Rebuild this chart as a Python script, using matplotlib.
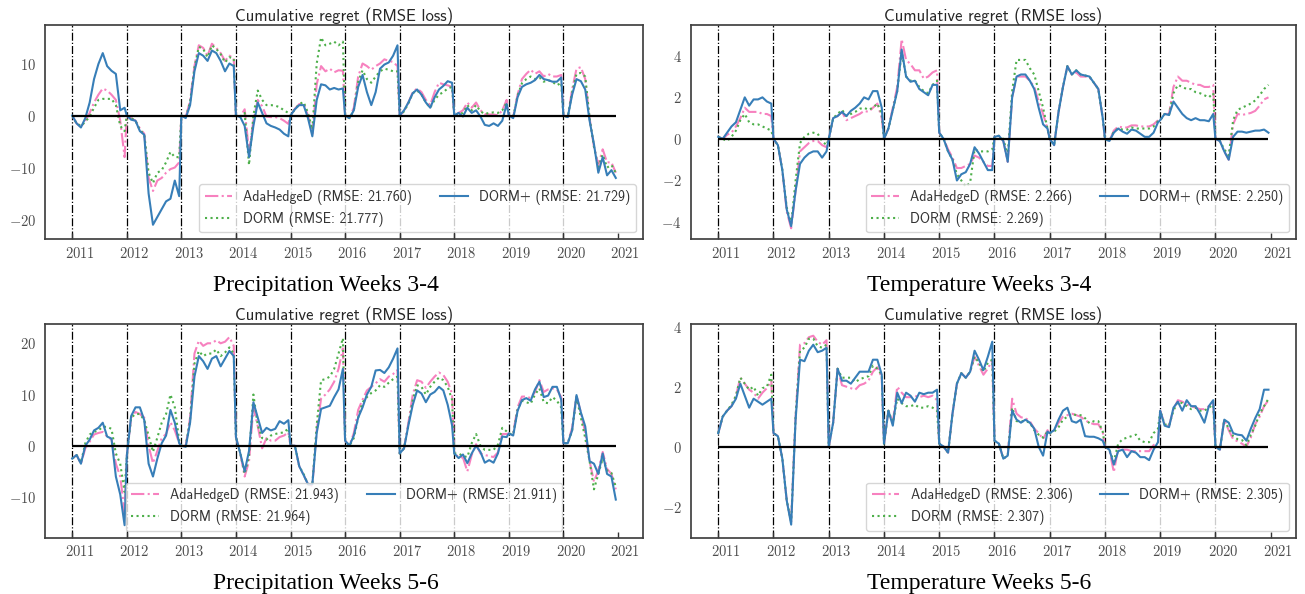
import numpy as np
import matplotlib
matplotlib.use("Agg")
import matplotlib.pyplot as plt
from matplotlib import transforms

plt.rcParams["mathtext.fontset"] = "cm"

year_labels = ["2011", "2012", "2013", "2014", "2015", "2016", "2017", "2018", "2019", "2020", "2021"]
# samples inside each forecast year (fraction of the year)
frac = np.arange(13) * 0.08
t = np.concatenate([k + frac for k in range(10)])

# ---------------- Precipitation weeks 3-4 ----------------
p34_ada = [
    [0, -1.5, -2.2, -1, 0.5, 2.5, 4, 5.2, 4.8, 4, 3, -1, -8],
    [0, -0.5, -1, -2.5, -3.5, -12, -14.5, -12.5, -12, -11, -10.3, -10, -9],
    [0, -0.3, 2.8, 9.5, 13.5, 13, 11.5, 13.8, 13, 12, 10.5, 11.5, 11],
    [0, -0.2, 1.2, -7, -1, 3, 1.8, -0.2, -0.3, -0.3, -0.5, -1, -1.6],
    [0, 1.3, 2.2, 2.3, 0, -3.5, 6, 9.5, 8.5, 9, 8.3, 8.7, 8.6],
    [0, -0.5, 1.5, 7.5, 10, 9.5, 8.8, 9.5, 10, 10.8, 10.5, 10.3, 9.5],
    [0, 0.8, 2.5, 4.5, 5.2, 4.5, 3, 2, 4.5, 6.3, 6, 5.8, 5.5],
    [0, 0.5, 1, 2.5, 1.5, 2.5, 1, 0.3, 0.2, 0.2, 0, 1, 3],
    [0, -0.3, 4, 7, 8, 8.8, 8, 8.5, 7.5, 8, 7.5, 7.5, 7.8],
    [0, -0.3, 5, 9, 9.3, 7, -0.5, -6, -9.5, -6.5, -9, -9, -11],
]
p34_dorm = [
    [0, -1.5, -2, -1.2, -0.2, 1.5, 3, 3.2, 3.2, 3.2, 2, -2, -3],
    [0, -0.5, -1, -2.8, -3.6, -11, -13, -11, -10.5, -9, -7, -8, -8],
    [0, -0.4, 2.6, 9.2, 13.2, 12.8, 11.2, 13.5, 12.8, 11.8, 10.2, 11.2, 11],
    [0, -0.2, 0.5, -9.5, 0, 4.8, 3, 2, 2, 1.9, 1.6, 1, 0.5],
    [0, 1.2, 2.2, 2.6, 0.5, -2.7, 10, 15, 13.5, 13.8, 14.2, 13.5, 14.2],
    [0, -0.5, 1, 6.5, 8.7, 7, 6.3, 7.5, 8.5, 9, 8.8, 8.5, 8.5],
    [0, 0.8, 2.3, 4.3, 4.8, 4, 2.5, 1.5, 3, 4, 4.5, 5.2, 5.5],
    [0, 0.3, 0.5, 2, 1, 2, 0.8, 0.3, 0.5, 0.6, 0.5, 1, 2.5],
    [0, -0.3, 3.8, 6.2, 7, 7.5, 7, 7.3, 6.5, 6.8, 6.5, 5.8, 6.3],
    [0, -0.3, 4.5, 8, 8.2, 7.5, -0.5, -6, -10, -7.5, -10, -9.5, -11],
]
p34_dormp = [
    [0, -1.5, -2.3, -0.5, 2.5, 7, 9.9, 12, 9.5, 8.6, 8, 1, 1.5],
    [0, -0.8, -1, -3, -3.7, -15, -21, -19.5, -18, -16.5, -16, -12.5, -15.5],
    [0, -0.5, 2, 8.5, 12, 11.5, 10.5, 12.5, 12, 10.5, 8.5, 10, 9.5],
    [0, -0.3, -2, -8, -2, 2.5, 0.5, -1.5, -2, -2.3, -2.7, -3.5, -4],
    [0, 1.2, 2, 2, -0.5, -4, 3, 6, 5.8, 5, 5.3, 5, 5.2],
    [0, -0.5, 1, 5.5, 7.8, 4.5, 2, 4.5, 9, 9.8, 10.2, 11.5, 13.5],
    [0, 1, 2.5, 4.3, 5, 4, 2.5, 1.5, 3.5, 5, 5.7, 6.6, 6.3],
    [0, 0.5, -0.2, 1.5, 0.5, 1, -0.2, -1.8, -2, -1.5, -2, -1, 2.2],
    [0, -0.5, 3.5, 5.5, 6, 6.3, 6.8, 7.8, 7, 6.8, 6.5, 6.5, 7.3],
    [0, -0.3, 4, 7, 6.6, 5, -1, -5.5, -11, -8, -11.5, -10.5, -12],
]
p34_rmse = ["21.760", "21.777", "21.729"]

# ---------------- Temperature weeks 3-4 ----------------
t34_ada = [
    [0.1, 0, 0.2, 0.3, 0.6, 1.0, 1.5, 1.3, 1.3, 1.3, 1.2, 1.2, 1.1],
    [0, -0.3, -1.5, -3.5, -4.3, -2.5, -0.6, -0.4, -0.2, -0.1, -0.1, -0.3, -0.4],
    [0, 1.0, 1.1, 1.3, 0.9, 1.0, 1.1, 1.2, 1.35, 1.3, 1.5, 1.7, 1.0],
    [0, 0.5, 1.5, 2.5, 4.8, 3.8, 3.6, 3.3, 3.3, 2.9, 3.0, 3.2, 3.3],
    [0.3, 0, -0.5, -0.9, -1.4, -1.4, -1.3, -1.2, -0.8, -0.9, -1.1, -1.3, -1.3],
    [0.1, 0.15, -0.1, -1.1, 2.0, 3.0, 3.0, 3.0, 2.8, 2.5, 1.8, 1.2, 0.5],
    [0, -0.3, 1.3, 2.5, 3.5, 3.1, 3.2, 3.0, 3.0, 2.95, 2.7, 2.4, 1.0],
    [0, -0.1, 0.4, 0.6, 0.55, 0.55, 0.65, 0.65, 0.6, 0.6, 0.6, 0.7, 0.9],
    [0.9, 1.2, 1.2, 2.5, 3.0, 2.8, 2.8, 2.7, 2.6, 2.6, 2.5, 2.5, 2.6],
    [0, -0.1, -0.6, -1.0, 0.7, 1.2, 1.15, 1.2, 1.25, 1.35, 1.6, 1.9, 2.0],
]
t34_dorm = [
    [0.1, 0, -0.1, 0.1, 0.4, 0.9, 1.2, 0.8, 0.7, 0.7, 0.6, 0.5, 0.4],
    [0, -0.3, -1.5, -3.3, -4.1, -2.0, -0.2, 0.1, 0.25, 0.3, 0.25, -0.1, -0.3],
    [0, 1.0, 1.2, 1.4, 1.1, 1.2, 1.3, 1.45, 1.5, 1.4, 1.5, 1.7, 1.2],
    [0, 0.5, 1.4, 2.3, 4.2, 3.0, 2.8, 2.8, 2.5, 2.3, 2.2, 2.6, 2.8],
    [0.3, 0, -0.6, -1.0, -1.7, -2.0, -2.3, -2.1, -0.5, -0.6, -0.6, -0.6, -0.5],
    [0.1, 0.15, 0, -0.8, 2.3, 3.8, 3.8, 3.8, 3.4, 3.1, 2.3, 1.5, 0.5],
    [0, -0.3, 1.3, 2.5, 3.5, 3.1, 3.3, 3.1, 3.05, 3.0, 2.7, 2.4, 1.0],
    [0, -0.1, 0.35, 0.5, 0.45, 0.45, 0.55, 0.5, 0.5, 0.5, 0.5, 0.6, 0.85],
    [0.9, 1.2, 1.15, 2.2, 2.6, 2.5, 2.4, 2.4, 2.25, 2.2, 2.1, 2.0, 2.2],
    [0, -0.1, -0.5, -0.8, 0.9, 1.4, 1.5, 1.6, 1.7, 1.85, 2.1, 2.4, 2.6],
]
t34_dormp = [
    [0.1, 0, 0.3, 0.6, 0.8, 1.4, 2.0, 1.6, 1.9, 1.9, 2.0, 1.8, 1.7],
    [0, -0.3, -1.5, -3.4, -4.2, -2.5, -1.2, -0.9, -0.7, -0.6, -0.6, -0.9, -0.6],
    [0, 1.0, 1.1, 1.3, 1.1, 1.35, 1.5, 1.7, 2.0, 1.9, 2.3, 2.3, 1.5],
    [0, 0.5, 1.4, 2.3, 4.3, 3.0, 2.75, 2.8, 2.4, 2.25, 2.1, 2.6, 2.6],
    [0.3, 0, -0.6, -1.0, -2.0, -1.7, -1.6, -1.2, -0.4, -0.7, -1.1, -1.5, -1.5],
    [0.1, 0.15, -0.1, -1.1, 2.0, 3.0, 3.1, 3.1, 2.8, 2.4, 1.5, 0.7, 0.5],
    [0, -0.3, 1.3, 2.5, 3.5, 3.1, 3.3, 3.1, 3.05, 3.0, 2.7, 2.4, 1.0],
    [0, -0.1, 0.3, 0.5, 0.35, 0.25, 0.45, 0.4, 0.25, 0.1, 0.1, 0.3, 0.8],
    [0.9, 1.2, 1.15, 1.8, 1.5, 1.2, 1.0, 0.9, 1.0, 0.9, 0.9, 0.85, 1.2],
    [0, -0.1, -0.6, -1.0, 0.1, 0.35, 0.35, 0.3, 0.35, 0.4, 0.4, 0.45, 0.3],
]
t34_rmse = ["2.266", "2.269", "2.250"]

# ---------------- Precipitation weeks 5-6 ----------------
p56_ada = [
    [-2.5, -1.8, -3.5, -0.5, 0.8, 2.2, 2.5, 2.7, 1.8, 1.2, -3.5, -6, -13],
    [-2, 5.5, 6.6, 6.2, 5.5, 0, -3.4, -1, 1.5, 2.3, 4.6, 3, 0.5],
    [0, 0, 5.5, 18, 20.5, 19.5, 20, 20, 20.6, 20, 20.3, 21.2, 19.5],
    [1.7, -1.5, -6, -3, 7.5, 3.8, -0.5, 1.5, 1, 1, 1.7, 2, 2.6],
    [0, 0, -4, -5.7, -7.5, -7.8, 3, 9.2, 10, 11, 12.5, 15, 19],
    [1, 0, 2.5, 7, 9, 10.8, 11.5, 12.2, 13, 12.5, 13.5, 14, 14.8],
    [-1.5, -0.5, 4.5, 10, 12.8, 12.5, 11.3, 12.5, 13.5, 14.3, 13.8, 12.5, 10.2],
    [-1.5, -2.2, -2.3, -5, -1.8, 0.3, -1.5, -1.8, -2, -2.2, -1.3, 2.3, 2.3],
    [2.4, 2.5, 7.5, 9.6, 9.6, 9.3, 10.5, 12.8, 10.5, 11, 11.2, 11, 9.5],
    [0.5, 0.5, 3.5, 9.8, 6.5, 2.5, -3, -7, -4.8, -1.2, -4.5, -5.5, -8.5],
]
p56_dorm = [
    [-2.5, -1.8, -3.3, 0.5, 2.2, 2.7, 3.0, 3.7, 3.7, 3.3, -1.5, -3.5, -9],
    [-2, 5.5, 6.2, 6.2, 5, 2, -1.2, 1.6, 4.5, 6.2, 10, 7.5, 1],
    [0, -0.1, 5, 16, 18.5, 17.5, 18, 18, 18.8, 17.5, 18.2, 19.2, 18],
    [1.7, -1.5, -5.5, -2, 10, 4, 1.5, 1.2, 2, 2.3, 2.5, 2.6, 3.4],
    [0, 0, -4, -5.5, -7.5, -7.5, 4, 12.8, 13, 13.5, 15, 18, 21],
    [1, 0, 1.5, 5.5, 8.5, 9.5, 10.3, 10.8, 11.8, 11.5, 12.3, 13, 13.5],
    [-1.5, -0.5, 4, 9, 11.8, 11.5, 10, 11.5, 12.5, 13.3, 12.8, 11.5, 9],
    [-1.5, -1.5, -2, -2.2, 0.5, 2.3, 0, -0.8, -0.8, -0.8, 0.2, 3.5, 2.8],
    [2.4, 2.2, 7, 8.8, 8.5, 8.2, 10, 11.2, 8.5, 8.3, 9.5, 8.8, 7.5],
    [0.5, 0.5, 3, 9.5, 5.5, 1.5, -3, -8.5, -5.5, -2.5, -4.8, -5.3, -8],
]
p56_dormp = [
    [-2.5, -1.8, -3.5, 0, 1.2, 3.0, 3.5, 4.5, 1.8, 1.4, -6, -9.5, -15.5],
    [-2, 5.8, 7.5, 7.5, 5, -3.5, -6, -2.5, 0.5, 2, 7, 4.5, 0.5],
    [0, -0.2, 4.5, 13.5, 17.5, 16.5, 15, 17, 17.5, 15.5, 17, 18.5, 17.5],
    [1.7, -1.5, -5, -1, 8.5, 5.5, 2.5, 3.5, 3, 3.3, 4.8, 4.3, 5],
    [0, 0, -4, -5.7, -7.5, -7.5, 2.5, 7.2, 7.5, 7.8, 9.5, 11, 15],
    [1, 0, 2, 5.5, 7.5, 10, 11.5, 14.7, 14.8, 14.2, 15.3, 17, 19],
    [-1.5, -0.5, 4, 8, 10.8, 10.2, 8.5, 10, 10.5, 11.5, 10.8, 8, 4],
    [-1.5, -2.4, -1.7, -3.4, -1.5, 0, -1.2, -3.3, -2.8, -3.3, -1.5, 1.8, 1.7],
    [2.4, 2, 6.8, 8.9, 9.3, 8.8, 11, 12.5, 9.5, 9.8, 11.5, 11.5, 9],
    [0.5, 0.5, 3, 9.9, 6.5, 3.8, -3, -3.5, -5.5, -1.5, -5.5, -6, -10.5],
]
p56_rmse = ["21.943", "21.964", "21.911"]

# ---------------- Temperature weeks 5-6 ----------------
t56_ada = [
    [0.45, 1.0, 1.2, 1.35, 1.7, 2.3, 2.1, 1.9, 1.8, 1.6, 1.8, 1.95, 2.2],
    [0.45, 0.35, -0.4, -1.8, -2.5, 1.0, 3.4, 3.45, 3.65, 3.7, 3.5, 3.4, 3.55],
    [0, 0.8, 2.6, 2.05, 2.0, 1.95, 1.9, 2.05, 2.1, 2.2, 2.5, 2.65, 2.3],
    [0.1, 1.2, 0.8, 2.0, 1.8, 1.65, 1.65, 1.7, 1.65, 1.7, 1.65, 1.7, 1.55],
    [0.1, 0, -0.2, 1.1, 2.1, 2.45, 2.3, 2.5, 3.0, 2.7, 2.4, 2.6, 2.9],
    [0.2, 0.1, -0.4, -0.3, 1.6, 1.1, 0.98, 0.95, 0.85, 0.6, 0.45, 0.25, 0.55],
    [0.45, 0.55, 0.8, 1.0, 1.05, 1.1, 1.05, 1.0, 0.88, 0.8, 0.75, 0.75, 0.5],
    [0, -0.1, -0.85, -0.05, -0.1, -0.1, -0.15, -0.15, -0.15, -0.15, -0.15, 0.05, 0.15],
    [1.2, 0.75, 0.7, 1.25, 1.55, 1.5, 1.4, 1.35, 1.3, 1.25, 1.25, 1.35, 1.45],
    [0, -0.1, 0.9, 0.55, 0.25, 0.18, 0.1, 0.0, 0.3, 0.75, 1.0, 1.35, 1.55],
]
t56_dorm = [
    [0.45, 1.0, 1.2, 1.4, 1.7, 2.3, 2.1, 1.9, 2.0, 1.7, 1.95, 2.0, 2.4],
    [0.45, 0.35, -0.4, -1.8, -2.5, 1.0, 3.2, 3.3, 3.6, 3.6, 3.35, 3.3, 3.4],
    [0, 0.8, 2.6, 2.3, 2.3, 2.3, 2.15, 2.25, 2.3, 2.35, 2.7, 2.6, 2.4],
    [0.1, 1.2, 0.8, 1.6, 1.45, 1.35, 1.35, 1.4, 1.3, 1.3, 1.35, 1.3, 1.2],
    [0.1, 0, -0.2, 1.1, 2.1, 2.45, 2.3, 2.5, 3.0, 2.8, 2.5, 2.8, 2.9],
    [0.2, 0.1, -0.4, -0.3, 1.3, 0.85, 0.85, 0.85, 0.8, 0.55, 0.4, 0.3, 0.5],
    [0.45, 0.5, 0.65, 0.9, 1.0, 1.1, 1.05, 1.05, 0.95, 0.78, 0.85, 0.85, 0.5],
    [0, -0.1, -0.5, 0.1, 0.25, 0.3, 0.35, 0.4, 0.2, 0.15, 0.15, 0.45, 0.6],
    [1.2, 0.75, 0.7, 1.2, 1.5, 1.45, 1.35, 1.25, 1.3, 1.2, 1.2, 1.3, 1.4],
    [0, -0.1, 0.9, 0.6, 0.35, 0.25, 0.22, 0.05, 0.4, 0.7, 1.1, 1.35, 1.6],
]
t56_dormp = [
    [0.45, 1.0, 1.2, 1.35, 1.6, 2.1, 1.7, 1.3, 1.6, 1.5, 1.4, 1.5, 1.6],
    [0.45, 0.35, -0.4, -1.8, -2.6, 0.9, 2.9, 2.85, 3.2, 3.4, 3.15, 3.2, 3.3],
    [0, 0.8, 2.6, 2.2, 2.2, 2.1, 2.3, 2.5, 2.5, 2.5, 2.9, 2.9, 2.4],
    [0.1, 1.2, 0.7, 1.8, 1.45, 1.8, 1.7, 1.5, 1.8, 1.75, 1.8, 1.8, 1.9],
    [0.1, 0, -0.2, 1.1, 2.1, 2.45, 2.3, 2.5, 3.2, 2.9, 2.55, 3.0, 3.5],
    [0.2, 0.1, -0.4, -0.3, 1.2, 0.9, 0.8, 0.9, 0.8, 0.6, 0.0, -0.3, 0.5],
    [0.45, 0.55, 0.9, 1.2, 1.3, 0.85, 0.8, 0.9, 0.35, 0.33, 0.33, 0.28, 0.2],
    [0, -0.1, -0.6, -0.15, -0.1, -0.35, -0.15, -0.2, -0.35, -0.35, -0.45, -0.1, 0.15],
    [1.2, 0.7, 0.65, 1.3, 1.5, 1.2, 1.55, 1.35, 1.35, 1.1, 0.8, 1.35, 1.55],
    [0, -0.1, 0.9, 0.8, 0.45, 0.4, 0.38, 0.2, 0.6, 0.95, 1.25, 1.9, 1.9],
]
t56_rmse = ["2.306", "2.307", "2.305"]

PINK, GREEN, BLUE = "#f781bf", "#4daf4a", "#377eb8"

panels = [
    # axes rect, data, rmse, ylim, yticks, legend loc, label, label x
    ([0.0345, 0.5971, 0.4582, 0.3608], (p34_ada, p34_dorm, p34_dormp), p34_rmse,
     (-23.8, 17.4), [-20, -10, 0, 10], "lower right", "Precipitation Weeks 3-4", 0.25),
    ([0.5293, 0.5971, 0.4638, 0.3608], (t34_ada, t34_dorm, t34_dormp), t34_rmse,
     (-4.83, 5.48), [-4, -2, 0, 2, 4], "lower right", "Temperature Weeks 3-4", 0.75),
    ([0.0345, 0.0951, 0.4582, 0.3589], (p56_ada, p56_dorm, p56_dormp), p56_rmse,
     (-17.9, 23.7), [-10, 0, 10, 20], "lower center", "Precipitation Weeks 5-6", 0.25),
    ([0.5293, 0.0951, 0.4638, 0.3589], (t56_ada, t56_dorm, t56_dormp), t56_rmse,
     (-3.03, 4.08), [-2, 0, 2, 4], "lower right", "Temperature Weeks 5-6", 0.75),
]

fig = plt.figure(figsize=(13.05, 5.94), dpi=100)
shift = transforms.ScaledTranslation(0.075, 0, fig.dpi_scale_trans)

for rect, (ada, dorm, dormp), rmse, ylim, yticks, loc, label, lx in panels:
    ax = fig.add_axes(rect)
    for k in range(10):
        ax.axvline(k, color="k", ls="-.", lw=0.9, zorder=1)
    ax.plot(t, np.ravel(ada), color=PINK, ls="-.", lw=1.5, zorder=2,
            label=f"AdaHedgeD (RMSE: {rmse[0]})")
    ax.plot(t, np.ravel(dorm), color=GREEN, ls=":", lw=1.5, zorder=2,
            label=f"DORM (RMSE: {rmse[1]})")
    ax.plot(t, np.ravel(dormp), color=BLUE, ls="-", lw=1.5, zorder=2,
            label=f"DORM+ (RMSE: {rmse[2]})")
    ax.hlines(0, t[0], t[-1], color="k", lw=1.6, zorder=3)

    ax.set_ylim(*ylim)
    ax.set_yticks(yticks)
    ax.set_yticklabels([f"${v}$" for v in yticks])
    ax.set_xticks(range(11))
    ax.set_xticklabels([f"${y}$" for y in year_labels])
    ax.tick_params(axis="x", direction="in", length=4.5, width=1, pad=5,
                   color="0.2", labelsize=10.5, labelcolor="0.3")
    ax.tick_params(axis="y", length=0, pad=6.5, labelsize=10.5, labelcolor="0.3")
    # year labels sit a little to the right of their tick marks
    for lab in ax.get_xticklabels():
        lab.set_transform(lab.get_transform() + shift)
    for s in ax.spines.values():
        s.set_color("0.25")
        s.set_linewidth(1.25)

    ax.set_title("Cumulative regret (RMSE loss)", family="cmss10", fontsize=12,
                 pad=3, color="0.15")
    leg = ax.legend(loc=loc, ncol=2, prop={"family": "cmss10", "size": 10},
                    framealpha=0.8, edgecolor="0.8", fancybox=True)
    for txt in leg.get_texts():
        txt.set_color("0.2")

    fig.text(lx, rect[1] - 0.0875, label, family="Liberation Serif", fontsize=17,
             ha="center", va="baseline")

fig.savefig("out.png", dpi=100)
